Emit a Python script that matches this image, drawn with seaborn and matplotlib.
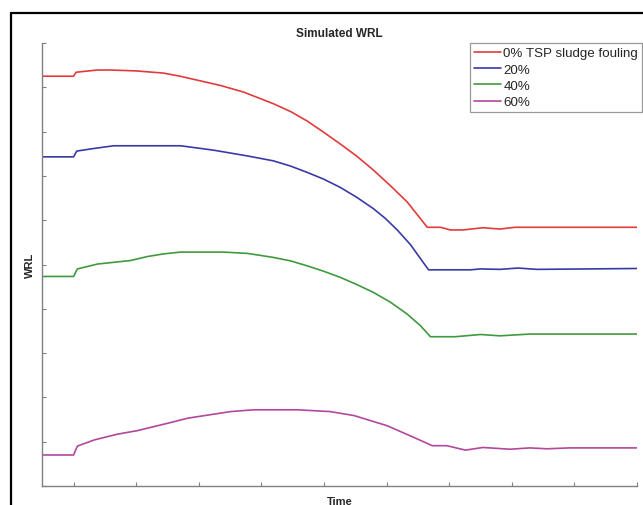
import matplotlib
matplotlib.use("Agg")
import matplotlib.pyplot as plt
from matplotlib.lines import Line2D
import seaborn as sns
import pandas as pd

# ---- data (x in time units, y in WRL units) ----
labels = ["0% TSP sludge fouling", "20%", "40%", "60%"]
colors = ["#e23b3b", "#3a3aa6", "#3f9a3f", "#b3479d"]

red_x = [0.5, 1.0, 1.04, 1.38, 1.59, 2.0, 2.44, 2.70, 2.98, 3.35, 3.72, 4.19, 4.47, 4.73, 4.99, 5.26, 5.52, 5.79, 6.06, 6.33, 6.65, 6.86, 7.02, 7.22, 7.54, 7.81, 8.05, 10.0]
red_y = [9.25, 9.25, 9.34, 9.39, 9.39, 9.37, 9.32, 9.25, 9.16, 9.04, 8.89, 8.63, 8.45, 8.24, 7.99, 7.72, 7.45, 7.13, 6.78, 6.41, 5.84, 5.84, 5.78, 5.78, 5.83, 5.80, 5.84, 5.84]

blue_x = [0.5, 1.0, 1.05, 1.28, 1.64, 2.71, 3.24, 3.78, 4.19, 4.47, 4.73, 4.99, 5.26, 5.52, 5.79, 5.98, 6.17, 6.38, 6.67, 7.34, 7.50, 7.81, 8.10, 8.40, 10.0]
blue_y = [7.43, 7.43, 7.56, 7.61, 7.68, 7.68, 7.58, 7.45, 7.34, 7.22, 7.08, 6.93, 6.74, 6.52, 6.26, 6.04, 5.78, 5.45, 4.88, 4.88, 4.90, 4.89, 4.92, 4.89, 4.91]

green_x = [0.5, 1.0, 1.06, 1.38, 1.91, 2.18, 2.44, 2.71, 3.40, 3.78, 4.19, 4.47, 4.73, 4.99, 5.26, 5.52, 5.79, 6.06, 6.33, 6.54, 6.70, 7.10, 7.50, 7.81, 8.29, 10.0]
green_y = [4.73, 4.73, 4.90, 5.01, 5.09, 5.18, 5.24, 5.28, 5.28, 5.25, 5.16, 5.08, 4.97, 4.85, 4.71, 4.55, 4.37, 4.15, 3.88, 3.62, 3.37, 3.37, 3.42, 3.39, 3.43, 3.43]

mag_x = [0.5, 1.0, 1.06, 1.33, 1.70, 2.02, 2.34, 2.60, 2.82, 3.14, 3.51, 3.88, 4.57, 5.10, 5.48, 6.01, 6.43, 6.73, 6.96, 7.26, 7.54, 7.97, 8.29, 8.56, 8.93, 10.0]
mag_y = [0.70, 0.70, 0.90, 1.04, 1.17, 1.25, 1.36, 1.45, 1.53, 1.60, 1.68, 1.72, 1.72, 1.68, 1.59, 1.36, 1.10, 0.91, 0.91, 0.81, 0.87, 0.83, 0.86, 0.84, 0.86, 0.86]

x_ticks = [1, 2, 3, 4, 5, 6, 7, 8, 9, 10]
y_ticks = [0, 1, 2, 3, 4, 5, 6, 7, 8, 9, 10]

series = [(red_x, red_y), (blue_x, blue_y), (green_x, green_y), (mag_x, mag_y)]
frames = []
for lab, (xs, ys) in zip(labels, series):
    frames.append(pd.DataFrame({"Time": xs, "WRL": ys, "series": lab}))
df = pd.concat(frames, ignore_index=True)

sns.set_style("white")
plt.rcParams["font.family"] = ["Liberation Sans", "DejaVu Sans"]

fig = plt.figure(figsize=(6.43, 5.06), dpi=100)
ax = fig.add_axes([42.3 / 643, 19 / 506, (637 - 42.3) / 643, (487 - 44) / 506])

sns.lineplot(data=df, x="Time", y="WRL", hue="series", hue_order=labels,
             palette=dict(zip(labels, colors)), sort=False, estimator=None,
             units="series", linewidth=1.2, ax=ax, legend=False)

ax.set_xlim(0.5, 10)
ax.set_ylim(0, 10)
ax.set_xticks(x_ticks)
ax.set_yticks(y_ticks)
ax.set_xticklabels([])
ax.set_yticklabels([])
ax.tick_params(direction="in", length=3, width=0.8, color="#808080",
               left=True, bottom=True)
for s in ["top", "right"]:
    ax.spines[s].set_visible(False)
for s in ["left", "bottom"]:
    ax.spines[s].set_color("#808080")
    ax.spines[s].set_linewidth(1.0)

ax.set_title("Simulated WRL", fontsize=8.5, fontweight="bold", pad=5)
ax.set_xlabel("Time", fontsize=8, fontweight="bold", labelpad=4)
ax.set_ylabel("WRL", fontsize=8, fontweight="bold", labelpad=2)

handles = [Line2D([0], [0], color=c, lw=1.2) for c in colors]
leg = fig.legend(handles, labels, loc="upper right",
                 bbox_to_anchor=(642 / 643, 1 - 44 / 506),
                 fontsize=9.6, frameon=True, fancybox=False,
                 handlelength=2.0, handletextpad=0.2, labelspacing=0.3,
                 borderpad=0.3, borderaxespad=0)
leg.get_frame().set_edgecolor("#808080")
leg.get_frame().set_linewidth(0.9)

# outer black frame (left and top edges visible in the picture)
fig.add_artist(Line2D([11 / 643, 11 / 643], [0, 1 - 14 / 506], color="black",
                      lw=1.6, transform=fig.transFigure))
fig.add_artist(Line2D([11 / 643, 1], [1 - 14 / 506, 1 - 14 / 506], color="black",
                      lw=1.6, transform=fig.transFigure))

fig.savefig("out.png", dpi=100)
